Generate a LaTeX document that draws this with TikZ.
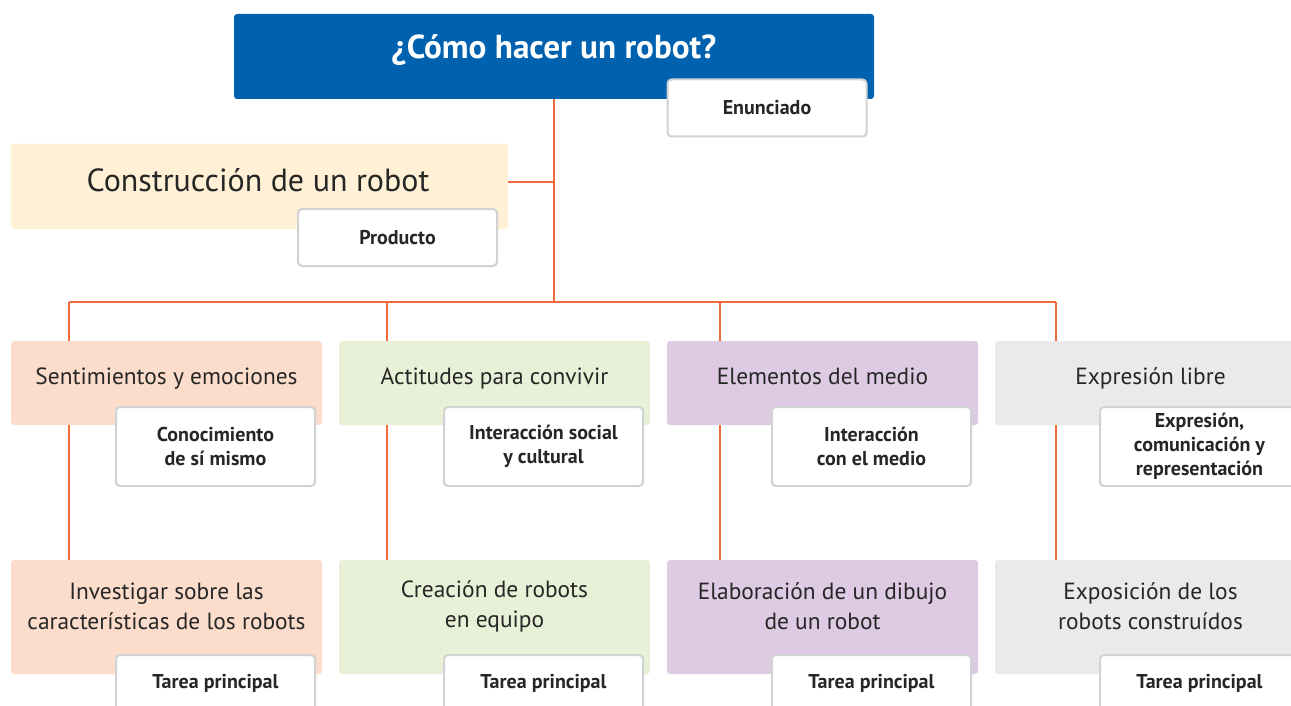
\documentclass[tikz,border=0pt]{standalone}
\usepackage{fontspec}
\setmainfont{PT Sans}
\usetikzlibrary{positioning}

\definecolor{titleblue}{HTML}{0061AE}
\definecolor{linkorange}{HTML}{EE6A3A}
\definecolor{creamfill}{HTML}{FFF0D6}
\definecolor{peachfill}{HTML}{FCDDCB}
\definecolor{greenfill}{HTML}{E8F1D8}
\definecolor{lilacfill}{HTML}{DECAE3}
\definecolor{greyfill}{HTML}{EAEAEA}
\definecolor{tagborder}{HTML}{D0D2D3}

\tikzset{
  panel/.style={fill=#1, rounded corners=1.5pt, minimum width=155.5pt, inner sep=0pt},
  headpanel/.style={panel=#1, minimum height=42pt},
  jobpanel/.style={panel=#1, minimum height=57pt},
  paneltext/.style={font=\fontsize{11.7}{15}\selectfont, align=center, text=black!85},
  headtext/.style={paneltext, anchor=base},
  tagbox/.style={draw=tagborder, line width=1pt, fill=white, rounded corners=2pt,
    minimum width=99.5pt, minimum height=28.5pt, inner sep=0pt, align=center, text=black!85,
    font=\bfseries\fontsize{10}{12}\selectfont},
  areatag/.style={tagbox, minimum height=39.5pt},
  link/.style={linkorange, line width=0.75pt}
}

\begin{document}
\begin{tikzpicture}[x=0.5pt, y=-0.5pt]
  \useasboundingbox (0,0) rectangle (1291,706);
  \clip (0,0) rectangle (1291,706);

  % Title and statement
  \node[panel=titleblue, minimum width=320pt, minimum height=42.5pt] (title) at (554,56.5) {};
  \node[text=white, font=\bfseries\fontsize{16.6}{19}\selectfont] (titletext) at (554,50) {¿Cómo hacer un robot?};
  \node[tagbox] (enun) at (767,108) {Enunciado};

  % Product
  \node[panel=creamfill, minimum width=248.5pt, minimum height=42.5pt] (cons) at (259.5,186.5) {};
  \node[font=\fontsize{16}{19}\selectfont, text=black!85] (constext) at (258,180) {Construcción de un robot};
  \node[tagbox] (prod) at (397.5,237.5) {Producto};

  % Areas
  \node[headpanel=peachfill] (head1) at (166.5,383) {};
  \node[headtext] (headtext1) at (166.5,384) {Sentimientos y emociones};
  \node[areatag] (area1) at (215.5,446.5) {Conocimiento\\de sí mismo};
  \node[headpanel=greenfill] (head2) at (494.5,383) {};
  \node[headtext] (headtext2) at (494.5,384) {Actitudes para convivir};
  \node[areatag] (area2) at (543.5,446.5) {Interacción social\\y cultural};
  \node[headpanel=lilacfill] (head3) at (822.5,383) {};
  \node[headtext] (headtext3) at (822.5,384) {Elementos del medio};
  \node[areatag] (area3) at (871.5,446.5) {Interacción\\con el medio};
  \node[headpanel=greyfill] (head4) at (1150.5,383) {};
  \node[headtext] (headtext4) at (1150.5,384) {Expresión libre};
  \node[areatag] (area4) at (1199.5,446.5) {Expresión,\\comunicación y\\representación};

  % Main tasks
  \node[jobpanel=peachfill] (job1) at (166.5,617) {};
  \node[paneltext] (jobtext1) at (166.5,606) {Investigar sobre las\\características de los robots};
  \node[tagbox] (tag1) at (215.5,683.5) {Tarea principal};
  \node[jobpanel=greenfill] (job2) at (494.5,617) {};
  \node[paneltext] (jobtext2) at (494.5,606) {Creación de robots\\en equipo};
  \node[tagbox] (tag2) at (543.5,683.5) {Tarea principal};
  \node[jobpanel=lilacfill] (job3) at (822.5,617) {};
  \node[paneltext] (jobtext3) at (822.5,606) {Elaboración de un dibujo\\de un robot};
  \node[tagbox] (tag3) at (871.5,683.5) {Tarea principal};
  \node[jobpanel=greyfill] (job4) at (1150.5,617) {};
  \node[paneltext] (jobtext4) at (1150.5,606) {Exposición de los\\robots construídos};
  \node[tagbox] (tag4) at (1199.5,683.5) {Tarea principal};

  % Connectors
  \coordinate (hub) at (554,302);
  \draw[link] (title.south) -- (hub);
  \draw[link] ([yshift=2.25pt]cons.east) -- ([yshift=2.25pt]cons.east -| hub);
  \coordinate (col1) at (69,302);
  \coordinate (col2) at (387,302);
  \coordinate (col3) at (720,302);
  \coordinate (col4) at (1056,302);
  \draw[link] (col1) -- (col4);
  \foreach \k in {1,2,3,4} {
    \draw[link] (col\k) -- (col\k |- head\k.north);
    \draw[link] (head\k.south -| col\k) -- (job\k.north -| col\k);
  }
\end{tikzpicture}
\end{document}
